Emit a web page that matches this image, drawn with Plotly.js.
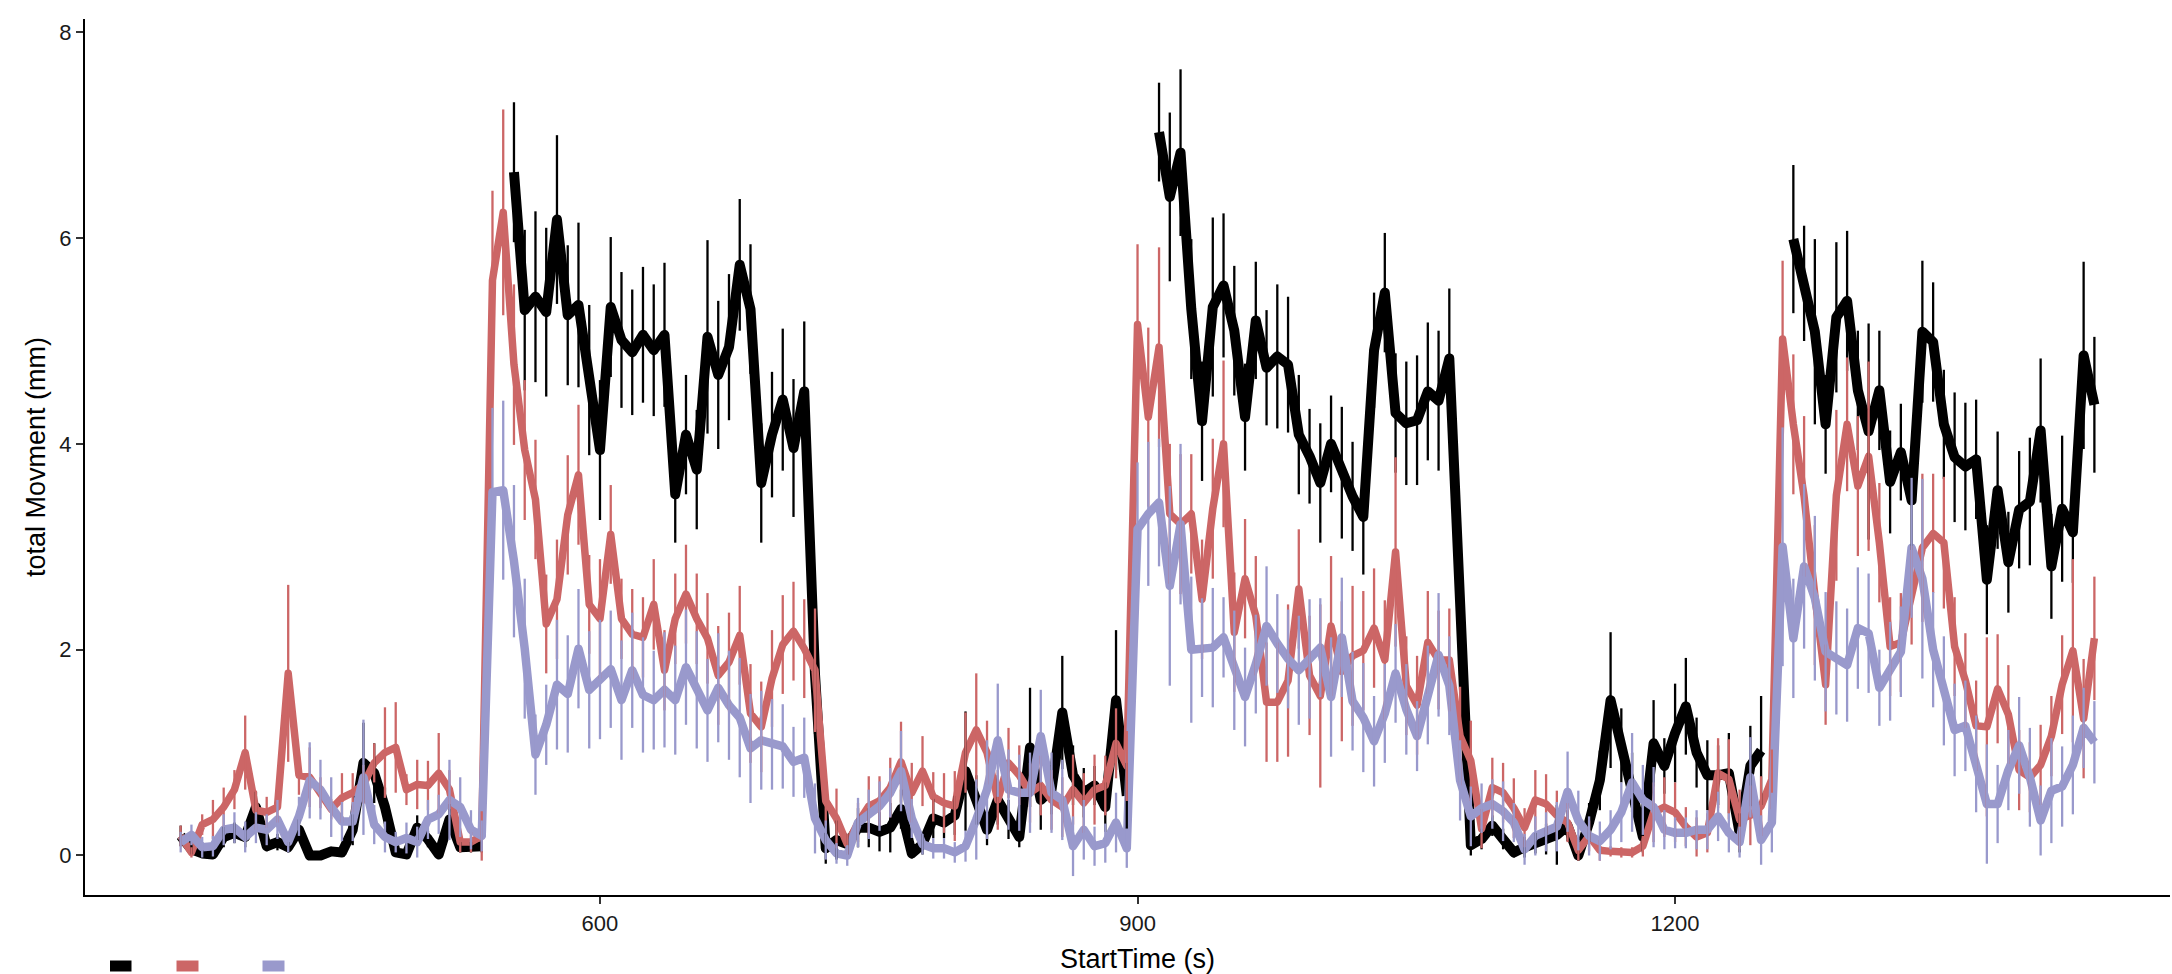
<!DOCTYPE html>
<html>
<head>
<meta charset="utf-8">
<script src="https://cdn.plot.ly/plotly-3.0.1.min.js"></script>
<style>html,body{margin:0;padding:0;background:#fff;}#chart{width:2172px;height:974px;}</style>
</head>
<body>
<div id="chart"></div>
<script>
// StartTime (s)
const startTime = [
366,372,378,384,390,396,402,408,414,420,
426,432,438,444,450,456,462,468,474,480,
486,492,498,504,510,516,522,528,534,540,
546,552,558,564,570,576,582,588,594,600,
606,612,618,624,630,636,642,648,654,660,
666,672,678,684,690,696,702,708,714,720,
726,732,738,744,750,756,762,768,774,780,
786,792,798,804,810,816,822,828,834,840,
846,852,858,864,870,876,882,888,894,900,
906,912,918,924,930,936,942,948,954,960,
966,972,978,984,990,996,1002,1008,1014,1020,
1026,1032,1038,1044,1050,1056,1062,1068,1074,1080,
1086,1092,1098,1104,1110,1116,1122,1128,1134,1140,
1146,1152,1158,1164,1170,1176,1182,1188,1194,1200,
1206,1212,1218,1224,1230,1236,1242,1248,1254,1260,
1266,1272,1278,1284,1290,1296,1302,1308,1314,1320,
1326,1332,1338,1344,1350,1356,1362,1368,1374,1380,
1386,1392,1398,1404,1410,1416,1422,1428,1434];

// group 1 (black): mean total movement (mm) and its error
const moveBlack = [
0.19,0.06,0.02,0.01,0.18,0.22,0.18,0.47,0.09,0.13,
0.08,0.25,0.0,0.0,0.04,0.03,0.25,0.9,0.8,0.47,
0.03,0.01,0.27,0.16,0.01,0.35,0.08,0.08,0.09,null,
null,6.64,5.3,5.43,5.28,6.18,5.25,5.35,4.62,3.94,
5.33,5.01,4.89,5.06,4.91,5.06,3.51,4.09,3.75,5.04,
4.67,4.94,5.74,5.31,3.62,4.09,4.43,3.96,4.51,1.76,
0.07,0.15,0.11,0.27,0.27,0.23,0.27,0.45,0.02,0.11,
0.36,0.32,0.39,0.82,0.54,0.25,0.54,0.35,0.18,1.05,
0.54,0.64,1.39,0.78,0.61,0.68,0.47,1.51,0.58,null,
null,7.03,6.4,6.83,5.31,4.22,5.33,5.54,5.1,4.26,
5.2,4.74,4.85,4.77,4.09,3.88,3.62,4.0,3.72,3.49,
3.29,4.91,5.47,4.3,4.2,4.23,4.51,4.42,4.83,2.23,
0.1,0.16,0.29,0.16,0.03,0.08,0.12,0.16,0.2,0.29,
0.0,0.32,0.73,1.51,1.07,0.71,0.18,1.09,0.87,1.19,
1.45,1.0,0.78,0.78,0.8,0.22,0.87,1.02,null,null,
5.99,5.56,5.09,4.19,5.23,5.39,4.52,4.12,4.52,3.63,
3.92,3.45,5.09,4.99,4.19,3.87,3.78,3.85,2.68,3.55,
2.85,3.36,3.44,4.13,2.81,3.37,3.14,4.86,4.38];
const errBlack = [
0.1,0.05,0.03,0.03,0.1,0.1,0.1,0.15,0.05,0.08,
0.05,0.1,0.02,0.02,0.03,0.03,0.15,0.39,0.29,0.19,
0.03,0.03,0.12,0.08,0.03,0.15,0.05,0.05,0.06,null,
null,0.68,0.78,0.83,0.82,0.82,0.68,0.8,0.73,0.68,
0.68,0.66,0.61,0.66,0.64,0.7,0.47,0.58,0.58,0.94,
0.72,0.71,0.64,0.63,0.58,0.61,0.69,0.67,0.68,0.58,
0.15,0.19,0.1,0.19,0.19,0.19,0.24,0.19,0.05,0.1,
0.19,0.15,0.19,0.58,0.24,0.15,0.24,0.19,0.1,0.58,
0.29,0.24,0.55,0.29,0.24,0.19,0.24,0.68,0.32,null,
null,0.48,0.82,0.81,0.68,0.58,0.87,0.7,0.63,0.52,
0.57,0.56,0.7,0.66,0.58,0.46,0.58,0.47,0.64,0.53,
0.56,0.56,0.58,0.58,0.6,0.63,0.67,0.68,0.68,0.48,
0.1,0.1,0.1,0.1,0.05,0.1,0.1,0.15,0.29,0.15,
0.05,0.19,0.29,0.66,0.36,0.29,0.15,0.42,0.27,0.48,
0.47,0.34,0.34,0.29,0.39,0.19,0.39,0.53,null,null,
0.72,0.56,0.9,0.48,0.73,0.68,0.58,1.05,0.58,0.5,
0.47,0.48,0.69,0.58,0.53,0.63,0.62,0.58,0.53,0.57,
0.49,0.57,0.62,0.7,0.51,0.71,0.49,0.91,0.66];

// group 2 (red)
const moveRed = [
0.19,0.03,0.3,0.35,0.47,0.64,1.0,0.44,0.42,0.47,
1.77,0.78,0.76,0.61,0.45,0.56,0.61,0.69,0.9,1.0,
1.05,0.64,0.69,0.68,0.8,0.64,0.13,0.13,0.19,5.59,
6.25,4.77,3.94,3.46,2.25,2.49,3.31,3.7,2.44,2.3,
3.12,2.3,2.15,2.12,2.44,1.8,2.3,2.54,2.3,2.11,
1.75,1.88,2.14,1.38,1.25,1.72,2.05,2.18,2.01,1.8,
0.53,0.36,0.11,0.32,0.48,0.53,0.66,0.91,0.61,0.82,
0.57,0.51,0.48,1.0,1.22,1.0,0.54,0.9,0.78,0.61,
0.68,0.54,0.47,0.64,0.51,0.64,0.68,1.09,0.87,5.16,
4.26,4.94,3.32,3.22,3.32,2.49,3.37,4.0,2.17,2.69,
2.33,1.49,1.49,1.7,2.59,1.75,1.55,2.23,1.79,1.94,
1.99,2.21,1.9,2.95,1.65,1.46,2.07,1.9,1.9,1.16,
0.92,0.26,0.66,0.61,0.46,0.27,0.54,0.5,0.39,0.32,
0.05,0.19,0.05,0.04,0.03,0.03,0.09,0.42,0.47,0.42,
0.28,0.18,0.22,0.8,0.74,0.35,0.39,0.48,0.74,5.02,
4.19,3.49,2.53,1.66,3.5,4.19,3.59,3.88,3.04,2.03,
2.07,2.53,2.99,3.13,3.04,2.03,1.7,1.26,1.25,1.62,
1.37,0.83,0.76,0.88,1.16,1.66,1.99,1.33,2.11];
const errRed = [
0.1,0.05,0.1,0.19,0.19,0.19,0.36,0.19,0.15,0.15,
0.86,0.19,0.29,0.15,0.1,0.24,0.19,0.19,0.19,0.44,
0.44,0.15,0.24,0.24,0.39,0.19,0.1,0.1,0.24,0.87,
1.0,0.78,0.68,0.58,0.48,0.58,0.58,0.68,0.48,0.58,
0.48,0.39,0.44,0.39,0.44,0.39,0.44,0.48,0.44,0.44,
0.48,0.48,0.48,0.48,0.44,0.47,0.48,0.48,0.48,0.6,
0.24,0.29,0.1,0.19,0.29,0.24,0.29,0.39,0.29,0.34,
0.24,0.29,0.34,0.39,0.55,0.31,0.29,0.34,0.29,0.29,
0.29,0.29,0.29,0.34,0.29,0.34,0.29,0.34,0.34,0.78,
0.87,0.97,0.68,0.68,0.58,0.58,0.68,0.81,0.58,0.58,
0.58,0.58,0.58,0.74,0.58,0.58,0.89,0.68,0.68,0.68,
0.58,0.58,0.58,0.92,0.48,0.48,0.5,0.48,0.5,0.48,
0.39,0.19,0.29,0.29,0.29,0.19,0.29,0.29,0.24,0.19,
0.1,0.15,0.1,0.05,0.05,0.05,0.1,0.29,0.29,0.29,
0.19,0.19,0.19,0.34,0.39,0.29,0.29,0.29,0.29,0.76,
0.68,0.78,0.68,0.39,0.83,0.65,0.68,0.92,0.58,0.48,
0.48,0.48,0.72,0.58,0.64,0.48,0.46,0.44,0.87,0.53,
0.48,0.39,0.34,0.39,0.39,0.48,0.89,0.58,0.6];

// group 3 (purple)
const movePurple = [
0.13,0.2,0.08,0.09,0.25,0.27,0.18,0.27,0.25,0.35,
0.13,0.38,0.73,0.64,0.47,0.33,0.33,0.76,0.3,0.18,
0.13,0.17,0.13,0.35,0.4,0.54,0.47,0.25,0.19,3.53,
3.55,2.86,2.01,0.98,1.27,1.66,1.57,2.01,1.61,1.71,
1.81,1.51,1.8,1.56,1.51,1.61,1.51,1.83,1.61,1.41,
1.63,1.46,1.34,1.04,1.12,1.08,1.06,0.91,0.95,0.36,
0.15,0.02,0.0,0.32,0.4,0.48,0.61,0.82,0.36,0.11,
0.07,0.07,0.03,0.09,0.35,0.64,1.12,0.64,0.61,0.61,
1.16,0.61,0.54,0.09,0.25,0.09,0.12,0.32,0.07,3.17,
3.32,3.43,2.62,3.22,2.0,2.02,2.02,2.12,1.8,1.54,
1.86,2.23,2.06,1.91,1.8,1.91,2.02,1.54,2.12,1.5,
1.34,1.11,1.38,1.77,1.42,1.16,1.56,1.95,1.65,0.73,
0.38,0.46,0.5,0.43,0.32,0.06,0.19,0.23,0.28,0.62,
0.34,0.19,0.14,0.25,0.42,0.71,0.54,0.47,0.25,0.22,
0.22,0.25,0.25,0.38,0.22,0.13,0.76,0.15,0.32,3.0,
2.11,2.81,2.5,1.98,1.92,1.85,2.21,2.16,1.63,1.79,
1.98,2.99,2.69,2.0,1.6,1.22,1.26,0.89,0.5,0.5,
0.83,1.07,0.76,0.34,0.63,0.67,0.88,1.24,1.1];
const errPurple = [
0.1,0.1,0.1,0.1,0.15,0.15,0.15,0.15,0.15,0.19,
0.1,0.19,0.37,0.29,0.29,0.19,0.19,0.56,0.19,0.15,
0.1,0.15,0.15,0.19,0.19,0.39,0.29,0.19,0.15,0.82,
0.87,0.74,0.68,0.39,0.39,0.63,0.57,0.58,0.57,0.58,
0.57,0.58,0.56,0.56,0.48,0.56,0.53,0.56,0.57,0.5,
0.53,0.53,0.58,0.53,0.48,0.44,0.41,0.34,0.39,0.34,
0.19,0.1,0.1,0.24,0.24,0.24,0.24,0.39,0.19,0.1,
0.1,0.1,0.1,0.15,0.39,0.48,0.55,0.39,0.37,0.39,
0.45,0.39,0.39,0.29,0.29,0.19,0.19,0.29,0.19,0.65,
0.7,0.62,0.97,0.78,0.71,0.48,0.58,0.39,0.58,0.48,
0.48,0.58,0.48,0.48,0.53,0.58,0.48,0.58,0.58,0.48,
0.53,0.44,0.48,0.48,0.44,0.34,0.48,0.6,0.48,0.39,
0.29,0.24,0.24,0.29,0.19,0.15,0.19,0.19,0.24,0.39,
0.29,0.19,0.19,0.19,0.29,0.48,0.34,0.39,0.19,0.15,
0.15,0.19,0.19,0.24,0.19,0.15,0.39,0.24,0.29,1.16,
0.58,0.8,0.8,0.58,0.55,0.55,0.59,0.58,0.37,0.48,
0.44,0.68,0.97,0.56,0.53,0.45,0.44,0.47,0.58,0.38,
0.39,0.47,0.48,0.34,0.51,0.39,0.48,0.39,0.4];

const xTicks = [600, 900, 1200];
const yTicks = [0, 2, 4, 6, 8];
const groupColors = ['#000000', '#CC6666', '#9999CC'];

const series = [
  {y: moveBlack, e: errBlack, lw: 10},
  {y: moveRed, e: errRed, lw: 7.5},
  {y: movePurple, e: errPurple, lw: 8.5}
];

const traces = [];
series.forEach((s, i) => {
  traces.push({
    type: 'scatter', mode: 'lines', x: startTime, y: s.y,
    line: {color: groupColors[i], width: s.lw}, connectgaps: false,
    showlegend: false, hoverinfo: 'skip'
  });
});
series.forEach((s, i) => {
  traces.push({
    type: 'scatter', mode: 'markers', x: startTime, y: s.y,
    marker: {size: 1, color: 'rgba(0,0,0,0)'},
    error_y: {type: 'data', array: s.e, visible: true, color: groupColors[i], thickness: 2.3, width: 0},
    showlegend: false, hoverinfo: 'skip'
  });
});

// legend keys (label-less), placed below the panel, positions in paper fraction
const plotL = 85, plotW = 2085, plotB = 895, plotH = 876;
const keyX = [[110, 131.5], [176.5, 198.5], [262.5, 284.5]];
const keyY = [960.5, 971.5];
const shapes = keyX.map((k, i) => ({
  type: 'rect', xref: 'paper', yref: 'paper',
  x0: (k[0] - plotL) / plotW, x1: (k[1] - plotL) / plotW,
  y0: (plotB - keyY[1]) / plotH, y1: (plotB - keyY[0]) / plotH,
  fillcolor: groupColors[i], line: {width: 0}, layer: 'above'
}));

const layout = {
  width: 2172, height: 974,
  margin: {l: 85, r: 2, t: 19, b: 79, pad: 0},
  paper_bgcolor: '#ffffff', plot_bgcolor: '#ffffff',
  font: {family: 'Liberation Sans, Arial, sans-serif', color: '#000000'},
  hovermode: false,
  showlegend: false,
  shapes: shapes,
  xaxis: {
    range: [312.6, 1476.2], tickvals: xTicks, ticktext: xTicks.map(String),
    ticks: 'outside', ticklen: 7, tickwidth: 2, tickcolor: '#333333',
    showline: true, linecolor: '#000000', linewidth: 2.2,
    showgrid: false, zeroline: false,
    tickfont: {size: 22, color: '#1a1a1a'},
    title: {text: 'StartTime (s)', font: {size: 27, color: '#000000'}}
  },
  yaxis: {
    range: [-0.384, 8.129], tickvals: yTicks, ticktext: yTicks.map(String),
    ticks: 'outside', ticklen: 7, tickwidth: 2, tickcolor: '#333333',
    showline: true, linecolor: '#000000', linewidth: 2.2,
    showgrid: false, zeroline: false, automargin: true,
    tickfont: {size: 22, color: '#1a1a1a'},
    title: {text: 'total Movment (mm)', font: {size: 27, color: '#000000'}, standoff: 6}
  }
};

Plotly.newPlot('chart', traces, layout, {displayModeBar: false, staticPlot: true}).then(() => {
  document.querySelectorAll('.js-line').forEach(p => { p.style.strokeLinejoin = 'round'; });
  // the reference centres the x title on a panel that runs slightly past the right edge
  const xt = document.querySelector('.g-xtitle text');
  if (xt) { xt.setAttribute('x', String(parseFloat(xt.getAttribute('x')) + 10)); }
});
</script>
</body>
</html>
